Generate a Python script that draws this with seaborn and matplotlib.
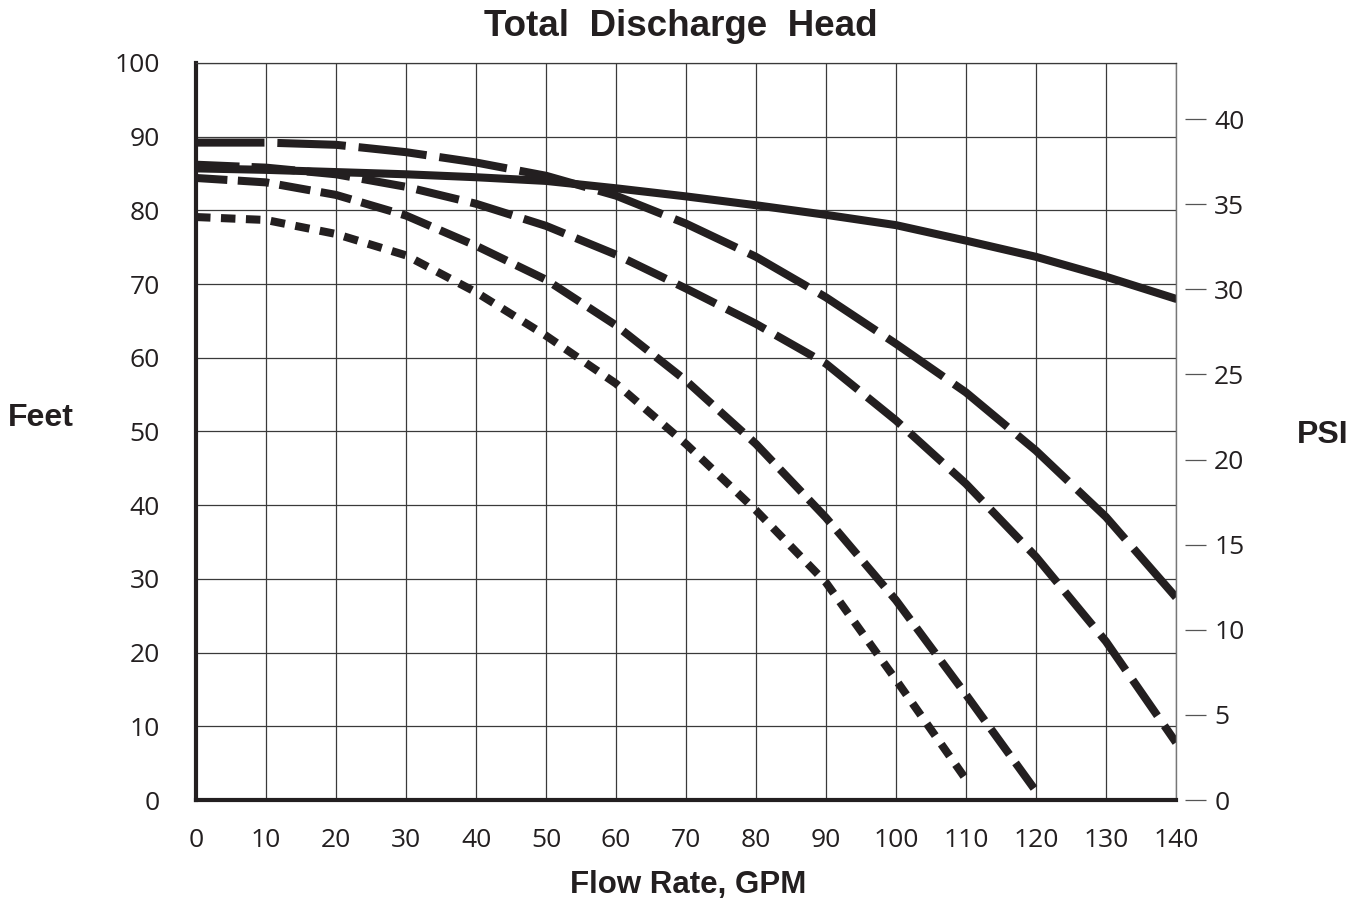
import numpy as np
import pandas as pd
from matplotlib import pyplot as plt
import seaborn as sns

# values (feet of head vs flow rate, GPM)
gpm = [0, 10, 20, 30, 40, 50, 60, 70, 80, 90, 100, 110, 120, 130, 140]
head_solid = [85.7, 85.5, 85.2, 84.9, 84.5, 84.0, 83.0, 81.9, 80.7, 79.4, 78.0, 75.9, 73.7, 71.0, 68.0]
head_long = [89.2, 89.2, 88.9, 87.9, 86.5, 84.7, 82.0, 78.2, 73.7, 68.2, 61.9, 55.3, 47.4, 38.4, 27.5]
head_medium = [86.2, 85.8, 84.9, 83.2, 80.9, 77.9, 74.0, 69.4, 64.6, 59.2, 51.5, 42.9, 33.0, 21.5, 7.8]
head_short = [84.4, 83.8, 82.1, 79.3, 75.2, 70.6, 64.4, 56.9, 48.3, 38.3, 27.1, 14.3, 1.2]
head_dot = [79.1, 78.7, 76.8, 73.9, 68.9, 63.0, 56.5, 48.3, 39.3, 29.5, 16.3, 2.8]

feet_ticks = list(range(0, 101, 10))
psi_ticks = list(range(0, 41, 5))
FT_PER_PSI = 2.31

sns.set_style("white")
plt.rcParams["font.family"] = ["Open Sans", "DejaVu Sans"]

ink = "#231f20"
lw = 5.8

fig = plt.figure(figsize=(13.62, 9.05), dpi=100)
ax = fig.add_axes([196 / 1362, 1 - 800 / 905, 980 / 1362, 737 / 905])

curves = [
    (head_solid, "-"),
    (head_long, (0, (8.5, 1.6))),
    (head_medium, (0, (5.4, 1.5))),
    (head_short, (0, (3.9, 1.3))),
    (head_dot, (0, (1.8, 1.3))),
]
for vals, ls in curves:
    df = pd.DataFrame({"gpm": gpm[: len(vals)], "feet": vals})
    sns.lineplot(data=df, x="gpm", y="feet", ax=ax, color=ink, lw=lw,
                 linestyle=ls, zorder=3)

ax.set_xlim(0, 140)
ax.set_ylim(0, 100)
ax.set_xticks(gpm)
ax.set_yticks(feet_ticks)
ax.grid(True, color="#3a3a3a", lw=0.9)
ax.set_xlabel("")
ax.set_ylabel("")
ax.tick_params(axis="both", length=0, labelsize=19, labelcolor=ink)
ax.tick_params(axis="y", pad=26)
ax.tick_params(axis="x", pad=20)

ax.spines["left"].set_linewidth(3.0)
ax.spines["left"].set_color(ink)
ax.spines["bottom"].set_linewidth(3.0)
ax.spines["bottom"].set_color(ink)
ax.spines["right"].set_linewidth(1.0)
ax.spines["right"].set_color("#777777")
ax.spines["top"].set_linewidth(0.9)
ax.spines["top"].set_color("#3a3a3a")
for s in ax.spines.values():
    s.set_zorder(4)

# PSI scale on the right
ax2 = ax.twinx()
ax2.set_ylim(0, 100 / FT_PER_PSI)
ax2.set_yticks(psi_ticks)
for name in ["left", "top", "bottom"]:
    ax2.spines[name].set_visible(False)
ax2.spines["right"].set_position(("outward", 6.5))
ax2.spines["right"].set_visible(False)
ax2.tick_params(axis="y", direction="out", length=15, width=0.9, color="#555555",
                pad=6, labelsize=19, labelcolor=ink)

fig.text(681 / 1362, 1 - 26 / 905, "Total  Discharge  Head", ha="center", va="center",
         fontsize=26.5, fontweight="bold", family="Liberation Sans", color=ink)
fig.text(8 / 1362, 1 - 418 / 905, "Feet", ha="left", va="center",
         fontsize=23, fontweight="bold", family="Liberation Sans", color=ink)
fig.text(1297 / 1362, 1 - 435 / 905, "PSI", ha="left", va="center",
         fontsize=23, fontweight="bold", family="Liberation Sans", color=ink)
fig.text(688 / 1362, 1 - 885 / 905, "Flow Rate, GPM", ha="center", va="center",
         fontsize=22.5, fontweight="bold", family="Liberation Sans", color=ink)

fig.savefig("out.png", dpi=100)
